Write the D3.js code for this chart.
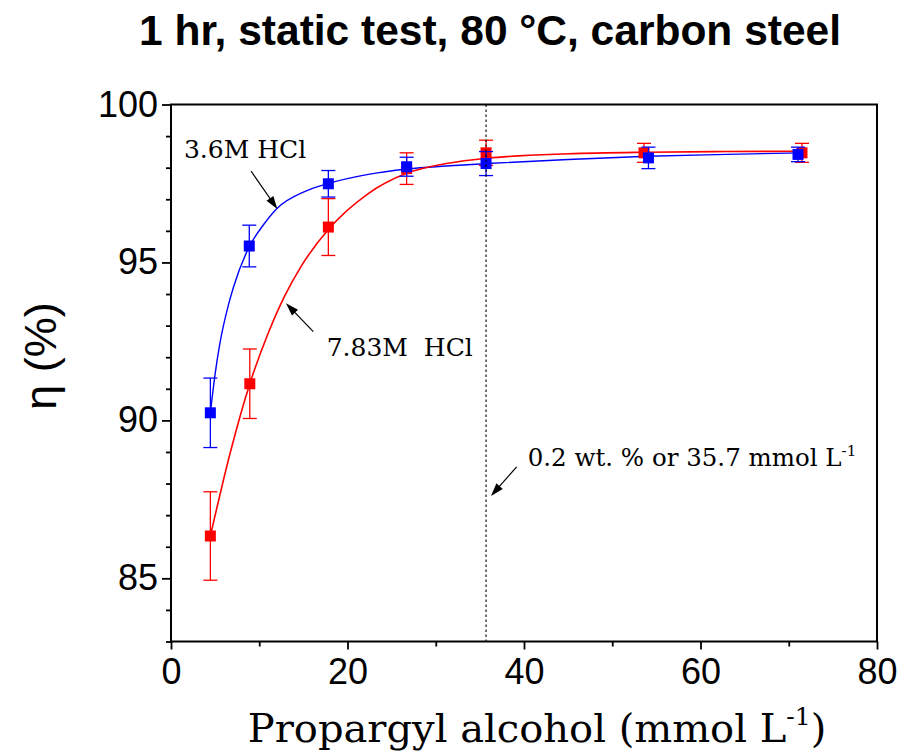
<!DOCTYPE html>
<html>
<head>
<meta charset="utf-8">
<script src="https://cdn.jsdelivr.net/npm/d3@7/dist/d3.min.js"></script>
<style>
  html, body { margin: 0; padding: 0; background: #ffffff; }
  svg { display: block; }
</style>
</head>
<body>
<svg id="chart" width="909" height="753"></svg>
<script>
// Inhibition efficiency of propargyl alcohol on carbon steel (1 hr, static, 80 °C)

// Measured points, 3.6 M HCl
const blueX   = [4.46, 8.87, 17.83, 26.7, 35.7, 54.1, 71.05];
const blueY   = [90.24, 95.52, 97.49, 98.03, 98.13, 98.31, 98.42];
const blueErr = [1.1, 0.66, 0.42, 0.3, 0.38, 0.34, 0.23];

// Measured points, 7.83 M HCl
const redX   = [4.46, 8.93, 17.83, 26.7, 35.7, 53.6, 71.5];
const redY   = [86.34, 91.16, 96.12, 97.97, 98.47, 98.47, 98.47];
const redErr = [1.4, 1.1, 0.9, 0.5, 0.4, 0.3, 0.3];

// Fitted curves (sampled)
const blueFitX = [4.46, 4.99, 5.55, 6.5, 7.06, 8.87, 10.5, 11.98, 15.2, 17.83, 22.2, 26.7, 31.6, 35.8, 45, 54, 63, 71.4];
const blueFitY = [90.24, 91.45, 92.45, 93.65, 94.2, 95.5, 96.2, 96.7, 97.25, 97.5, 97.78, 97.96, 98.06, 98.13, 98.26, 98.36, 98.42, 98.47];
const redFitX  = [4.46, 6.69, 8.93, 11.0, 12.9, 14.8, 17.85, 22.2, 26.7, 31.6, 35.8, 45, 54, 63, 71.4];
const redFitY  = [86.34, 88.95, 91.16, 92.75, 93.95, 94.9, 96.05, 97.15, 97.82, 98.15, 98.3, 98.44, 98.49, 98.51, 98.52];

// Axis ticks
const xMajorTicks = [0, 20, 40, 60, 80];
const xMinorTicks = [10, 30, 50, 70];
const yMajorTicks = [85, 90, 95, 100];
const yMinorTicks = [83, 84, 86, 87, 88, 89, 91, 92, 93, 94, 96, 97, 98, 99];

// Reference concentration (0.2 wt. %)
const refConc = 35.7;

const svg = d3.select("#chart");
const W = 909, H = 753;
const plot = { left: 171, right: 877, top: 104.5, bottom: 641.5 };

svg.append("rect").attr("width", W).attr("height", H).attr("fill", "#fff");

const x = d3.scaleLinear().domain([0, 80]).range([plot.left, plot.right]);
const y = d3.scaleLinear().domain([83, 100]).range([plot.bottom, plot.top]);

const sansFont = "'Liberation Sans', Arial, sans-serif";
const serifFont = "'DejaVu Serif', 'Liberation Serif', serif";

// Axes
function styleAxis(g) {
  g.select(".domain").remove();
  g.selectAll("line").attr("stroke", "#000").attr("stroke-width", 1.8);
}

const xAxis = svg.append("g")
  .attr("transform", `translate(0,${plot.bottom})`)
  .call(d3.axisBottom(x).tickValues(xMajorTicks).tickSize(8).tickPadding(9).tickFormat(d3.format("d")));
styleAxis(xAxis);
xAxis.selectAll("text").attr("font-family", sansFont).attr("font-size", 36).attr("fill", "#000");

svg.append("g")
  .attr("transform", `translate(0,${plot.bottom})`)
  .call(d3.axisBottom(x).tickValues(xMinorTicks).tickSize(5).tickFormat(""))
  .call(styleAxis);

const yAxis = svg.append("g")
  .attr("transform", `translate(${plot.left},0)`)
  .call(d3.axisLeft(y).tickValues(yMajorTicks).tickSize(9).tickPadding(4).tickFormat(d3.format("d")));
styleAxis(yAxis);
yAxis.selectAll("text").attr("font-family", sansFont).attr("font-size", 36).attr("fill", "#000");

svg.append("g")
  .attr("transform", `translate(${plot.left},0)`)
  .call(d3.axisLeft(y).tickValues(yMinorTicks).tickSize(5).tickFormat(""))
  .call(styleAxis);

// Frame
svg.append("rect")
  .attr("x", plot.left).attr("y", plot.top)
  .attr("width", plot.right - plot.left).attr("height", plot.bottom - plot.top)
  .attr("fill", "none").attr("stroke", "#000").attr("stroke-width", 2);

// Fitted curves
const line = d3.line().x(d => x(d[0])).y(d => y(d[1])).curve(d3.curveMonotoneX);
svg.append("path")
  .datum(blueFitX.map((v, i) => [v, blueFitY[i]]))
  .attr("d", line).attr("fill", "none").attr("stroke", "#0000ff").attr("stroke-width", 1.4);
svg.append("path")
  .datum(redFitX.map((v, i) => [v, redFitY[i]]))
  .attr("d", line).attr("fill", "none").attr("stroke", "#ff0000").attr("stroke-width", 1.6);

// Error bars and square markers
function drawSeries(xs, ys, errs, color) {
  const g = svg.append("g");
  const pts = xs.map((v, i) => ({ x: v, y: ys[i], e: errs[i] }));
  const cap = 7, half = 5.5;
  pts.forEach(p => {
    const px = x(p.x), top = y(p.y + p.e), bot = y(p.y - p.e);
    g.append("line").attr("x1", px).attr("x2", px).attr("y1", top).attr("y2", bot)
      .attr("stroke", color).attr("stroke-width", 1.3);
    g.append("line").attr("x1", px - cap).attr("x2", px + cap).attr("y1", top).attr("y2", top)
      .attr("stroke", color).attr("stroke-width", 1.3);
    g.append("line").attr("x1", px - cap).attr("x2", px + cap).attr("y1", bot).attr("y2", bot)
      .attr("stroke", color).attr("stroke-width", 1.3);
  });
  g.selectAll("rect.pt").data(pts).enter().append("rect")
    .attr("x", d => x(d.x) - half).attr("y", d => y(d.y) - half)
    .attr("width", half * 2).attr("height", half * 2)
    .attr("fill", color);
}
drawSeries(redX, redY, redErr, "#ff0000");
drawSeries(blueX, blueY, blueErr, "#0000ff");

// Reference concentration line
svg.append("line")
  .attr("x1", x(refConc)).attr("x2", x(refConc))
  .attr("y1", plot.top).attr("y2", plot.bottom)
  .attr("stroke", "#000").attr("stroke-width", 1.1).attr("stroke-dasharray", "2.5,2.5");

// Annotation arrows: a shaft plus a filled triangular head at the tip
function arrow(x1, y1, x2, y2) {
  const ax = x(x1), ay = y(y1), bx = x(x2), by = y(y2);
  const dx = bx - ax, dy = by - ay, len = Math.hypot(dx, dy);
  const ux = dx / len, uy = dy / len;
  const headLen = 13, headHalf = 4.2;
  const baseX = bx - ux * headLen, baseY = by - uy * headLen;
  svg.append("line")
    .attr("x1", ax).attr("y1", ay).attr("x2", baseX + ux * 2).attr("y2", baseY + uy * 2)
    .attr("stroke", "#000").attr("stroke-width", 1.2);
  svg.append("path")
    .attr("d", `M${bx},${by} L${baseX - uy * headHalf},${baseY + ux * headHalf} L${baseX + uy * headHalf},${baseY - ux * headHalf} Z`)
    .attr("fill", "#000");
}
arrow(9.07, 97.89, 12.05, 96.69);
arrow(16.12, 92.81, 13.03, 93.71);
arrow(39.17, 88.53, 36.26, 87.61);

svg.append("text")
  .attr("x", x(1.47)).attr("y", y(98.3))
  .attr("font-family", serifFont).attr("font-size", 25).attr("fill", "#000")
  .text("3.6M HCl");

svg.append("text")
  .attr("x", x(17.64)).attr("y", y(92.04))
  .attr("font-family", serifFont).attr("font-size", 25).attr("fill", "#000")
  .attr("xml:space", "preserve")
  .text("7.83M  HCl");

const refLabel = svg.append("text")
  .attr("x", x(40.42)).attr("y", y(88.57))
  .attr("font-family", serifFont).attr("font-size", 24.5).attr("fill", "#000");
refLabel.append("tspan").text("0.2 wt. % or 35.7 mmol L");
refLabel.append("tspan").attr("dy", -10).attr("font-size", 15).text("-1");

// Title
svg.append("text")
  .attr("x", 490).attr("y", 45)
  .attr("text-anchor", "middle")
  .attr("font-family", sansFont).attr("font-weight", "bold").attr("font-size", 42.5)
  .attr("fill", "#000")
  .text("1 hr, static test, 80 °C, carbon steel");

// Axis titles
svg.append("text")
  .attr("transform", "translate(56,356) rotate(-90)")
  .attr("text-anchor", "middle")
  .attr("font-family", sansFont).attr("font-size", 45).attr("fill", "#000")
  .text("η (%)");

const xTitle = svg.append("text")
  .attr("x", 537).attr("y", 742)
  .attr("text-anchor", "middle")
  .attr("font-family", serifFont).attr("font-size", 40).attr("fill", "#000");
xTitle.append("tspan").text("Propargyl alcohol (mmol L");
xTitle.append("tspan").attr("dy", -17).attr("font-size", 25).text("-1");
xTitle.append("tspan").attr("dy", 17).text(")");
</script>
</body>
</html>
